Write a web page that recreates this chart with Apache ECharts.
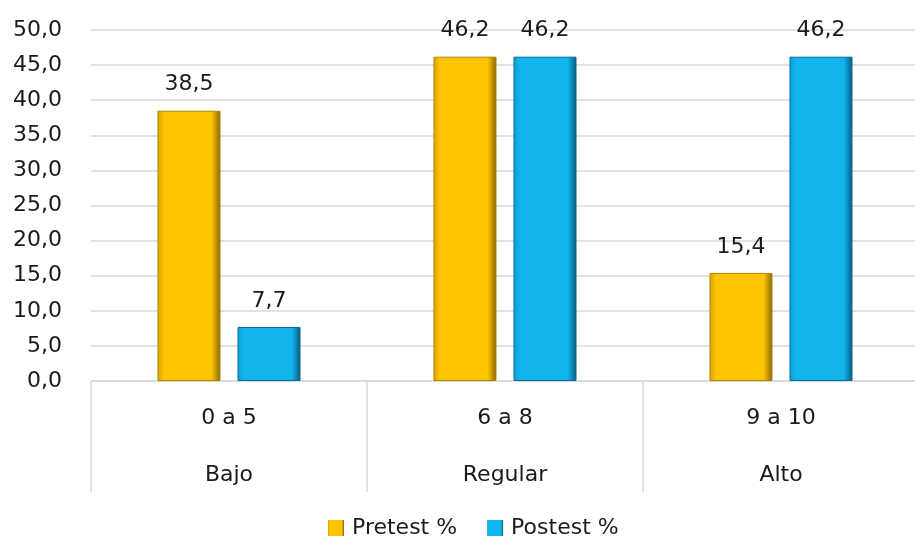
<!DOCTYPE html>
<html>
<head>
<meta charset="utf-8">
<script src="https://cdn.jsdelivr.net/npm/echarts@6/dist/echarts.min.js"></script>
<style>
  html, body { margin: 0; padding: 0; background: #ffffff; overflow: hidden; }
  /* a few px wider than the window so the closing separator falls off the right edge */
  #chart { width: 919px; height: 542px; }
</style>
</head>
<body>
<div id="chart"></div>
<script>
// Score ranges and their level names (two-row category axis)
const ranges = ['0 a 5', '6 a 8', '9 a 10'];
const levels = ['Bajo', 'Regular', 'Alto'];
// Percentages per group
const pretest = [38.5, 46.2, 15.4];
const postest = [7.7, 46.2, 46.2];
const seriesNames = ['Pretest %', 'Postest %'];

const FONT = '"DejaVu Sans", "Noto Sans", sans-serif';
const FS = 22;
const comma = v => v.toFixed(1).replace('.', ',');

// Bevelled look: darker edges, bright face
function bevel(edgeL, face, edgeR) {
  return new echarts.graphic.LinearGradient(0, 0, 1, 0, [
    { offset: 0, color: edgeL },
    { offset: 0.1, color: face },
    { offset: 0.86, color: face },
    { offset: 1, color: edgeR }
  ]);
}
const goldFill = bevel('#d6a100', '#ffc400', '#876400');
const blueFill = bevel('#0b9fd9', '#12b4ee', '#065a80');

const chart = echarts.init(document.getElementById('chart'), null, { renderer: 'canvas' });

const labelCfg = {
  show: true,
  position: 'top',
  distance: 15,
  fontFamily: FONT,
  fontSize: FS,
  color: '#1a1a1a',
  formatter: p => comma(p.value)
};

chart.setOption({
  animation: false,
  grid: { left: 91, right: 0, top: 30, bottom: 161, containLabel: false },
  legend: {
    bottom: -2,
    left: 323,
    itemWidth: 16,
    itemHeight: 16,
    itemGap: 30,
    textStyle: { fontFamily: FONT, fontSize: FS, color: '#1a1a1a', padding: [0, 0, 0, 3] },
    data: [
      { name: seriesNames[0], icon: 'rect', itemStyle: { color: goldFill, borderWidth: 0 } },
      { name: seriesNames[1], icon: 'rect', itemStyle: { color: blueFill, borderWidth: 0 } }
    ]
  },
  xAxis: [
    {
      type: 'category',
      data: ranges,
      position: 'bottom',
      axisLine: { show: true, lineStyle: { color: '#d9d9d9', width: 1.5 } },
      axisTick: { show: true, length: 111, interval: 0, lineStyle: { color: '#d9d9d9', width: 1.5 } },
      axisLabel: { margin: 26, fontFamily: FONT, fontSize: FS, color: '#1a1a1a', interval: 0 }
    },
    {
      type: 'category',
      data: levels,
      position: 'bottom',
      offset: 57,
      axisLine: { show: false },
      axisTick: { show: false },
      axisLabel: { margin: 26, fontFamily: FONT, fontSize: FS, color: '#1a1a1a', interval: 0 }
    }
  ],
  yAxis: {
    type: 'value',
    min: 0,
    max: 50,
    interval: 5,
    axisLine: { show: false },
    axisTick: { show: false },
    splitLine: { lineStyle: { color: '#d9d9d9', width: 1.5 } },
    axisLabel: {
      margin: 29,
      fontFamily: FONT,
      fontSize: FS,
      color: '#1a1a1a',
      formatter: v => comma(v)
    }
  },
  series: [
    {
      name: seriesNames[0],
      type: 'bar',
      xAxisIndex: 0,
      data: pretest,
      barWidth: 63,
      barGap: '27%',
      itemStyle: { color: goldFill, borderColor: '#b08600', borderWidth: 1 },
      label: labelCfg
    },
    {
      name: seriesNames[1],
      type: 'bar',
      xAxisIndex: 0,
      data: postest,
      barWidth: 63,
      itemStyle: { color: blueFill, borderColor: '#0a6a92', borderWidth: 1 },
      label: labelCfg
    }
  ]
});
</script>
</body>
</html>
